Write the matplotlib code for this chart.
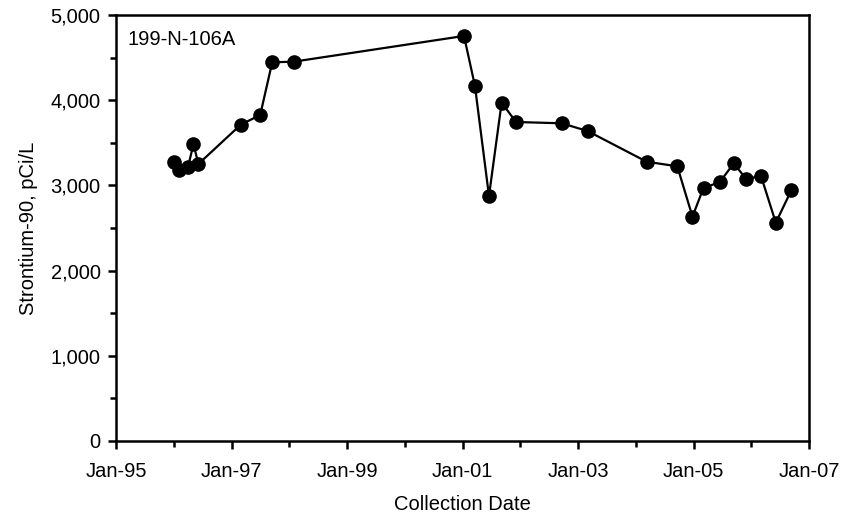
import matplotlib
matplotlib.use("Agg")
import matplotlib.pyplot as plt
import matplotlib.dates as mdates
from matplotlib.ticker import MultipleLocator, FuncFormatter, FixedLocator
import pandas as pd

plt.rcParams['font.family'] = ['Liberation Sans', 'DejaVu Sans']

dates = ["1996-01-01", "1996-02-05", "1996-04-01", "1996-05-05", "1996-06-05",
         "1997-03-01", "1997-07-01", "1997-09-15", "1998-01-28",
         "2001-01-10", "2001-03-20", "2001-06-17", "2001-09-05", "2001-12-05",
         "2002-09-20", "2003-03-03", "2004-03-10", "2004-09-20", "2004-12-25",
         "2005-03-05", "2005-06-15", "2005-09-12", "2005-12-01", "2006-03-03",
         "2006-06-05", "2006-09-12"]
sr90 = [3278, 3181, 3220, 3486, 3251,
        3714, 3826, 4445, 4452,
        4754, 4170, 2876, 3971, 3744,
        3729, 3638, 3278, 3224, 2633,
        2973, 3036, 3259, 3072, 3114,
        2562, 2946]
major_years = [1995, 1997, 1999, 2001, 2003, 2005, 2007]
minor_years = [1996, 1998, 2000, 2002, 2004, 2006]
well_label = "199-N-106A"
x_label = "Collection Date"
y_label = "Strontium-90, pCi/L"

x = pd.to_datetime(dates)

fig = plt.figure(figsize=(8.53, 5.18), dpi=100)
ax = fig.add_axes([116/853, 1-441/518, (809-116)/853, (441-15)/518])

ax.plot(x, sr90, color='black', lw=1.6, marker='o', markersize=9.5,
        markerfacecolor='black', markeredgecolor='black')

ax.set_xlim(pd.Timestamp("1995-01-01"), pd.Timestamp("2007-01-01"))
ax.set_ylim(0, 5000)
ax.xaxis.set_major_locator(FixedLocator(
    [mdates.date2num(pd.Timestamp(f"{y}-01-01")) for y in major_years]))
ax.xaxis.set_minor_locator(FixedLocator(
    [mdates.date2num(pd.Timestamp(f"{y}-01-01")) for y in minor_years]))
ax.xaxis.set_major_formatter(mdates.DateFormatter("%b-%y"))
ax.yaxis.set_major_locator(MultipleLocator(1000))
ax.yaxis.set_minor_locator(MultipleLocator(500))
ax.yaxis.set_major_formatter(FuncFormatter(lambda v, p: f"{int(v):,}"))

for s in ax.spines.values():
    s.set_linewidth(1.8)
ax.tick_params(axis='x', which='major', direction='out', length=6, width=1.8,
               labelsize=14.5, pad=9)
ax.tick_params(axis='y', which='major', direction='out', length=6, width=1.8,
               labelsize=14.5, pad=5)
ax.tick_params(axis='both', which='minor', direction='out', length=4, width=1.8)

ax.set_xlabel(x_label, fontsize=14.5, labelpad=10)
ax.set_ylabel(y_label, fontsize=14.5, labelpad=9)
ax.text(0.017, 0.965, well_label, transform=ax.transAxes, fontsize=14.5,
        ha='left', va='top')

fig.savefig("out.png", dpi=100)
